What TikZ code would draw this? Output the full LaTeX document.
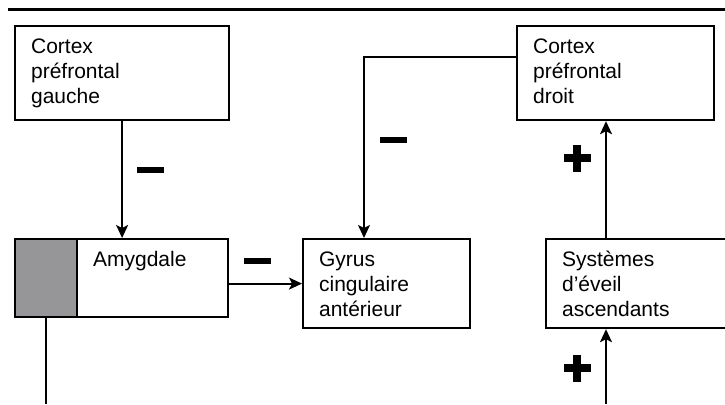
\documentclass[tikz,border=0pt]{standalone}
\usepackage{fontspec}
\setmainfont{Liberation Sans}
\usetikzlibrary{arrows.meta}
\definecolor{grisnoyau}{RGB}{150,150,152}
\tikzset{
  boite/.style={draw, line width=2.2pt, anchor=north west, align=left,
    inner xsep=16pt, inner ysep=12.5pt, text height=15pt,
    font=\fontsize{21pt}{25pt}\selectfont},
  fleche/.style={line width=1.8pt, -{Stealth[length=13pt,width=12pt,inset=3pt]}},
  trait/.style={line width=1.8pt},
  moins/.pic={\fill (-13.5,-2.75) rectangle (13.5,2.75);},
  plusgras/.pic={\fill (-13.5,-3.75) rectangle (13.5,3.75);
    \fill (-3.75,-13.5) rectangle (3.75,13.5);}
}
\begin{document}
\begin{tikzpicture}[x=1pt,y=-1pt]
    \useasboundingbox (0,0) rectangle (725,404);
    \clip (0,0) rectangle (725,404);
    %filet du haut
    \draw[line width=3pt] (8,10) -- (725,10);
    %boites
    \node (cpg) at (14,25)[boite, text width=182pt, text depth=54pt]{Cortex\\préfrontal\\gauche};
    \node (cpd) at (516,25)[boite, text width=165pt, text depth=54pt]{Cortex\\préfrontal\\droit};
    \node (noyau) at (14,238)[draw, line width=2.2pt, anchor=north west, fill=grisnoyau,
        minimum width=62pt, minimum height=78pt]{};
    \node (amyg) at (76,238)[boite, text width=119pt, text depth=38pt]{Amygdale};
    \node (gyrus) at (302,238)[boite, text width=135pt, text depth=49pt]{Gyrus\\cingulaire\\antérieur};
    \node (eveil) at (545,238)[boite, text width=168pt, text depth=49pt]{Systèmes\\d’éveil\\ascendants};
    %points de passage
    \coordinate (coude) at (364,57);
    \coordinate (axe) at (606,404);
    %connexions
    \draw[fleche] (cpg.south) -- (cpg.south |- amyg.north);
    \draw[fleche] (amyg.east |- gyrus.west) -- (gyrus.west);
    \draw[fleche] (coude -| cpd.west) -| (coude |- gyrus.north);
    \draw[fleche] (axe |- eveil.north) -- (axe |- cpd.south);
    \draw[fleche] (axe) -- (axe |- eveil.south);
    \draw[trait] (noyau.south) -- (noyau.south |- axe);
    %signes
    \pic at (150,170) {moins};
    \pic at (257,261) {moins};
    \pic at (393,140) {moins};
    \pic at (577,158) {plusgras};
    \pic at (577,368) {plusgras};
\end{tikzpicture}
\end{document}
